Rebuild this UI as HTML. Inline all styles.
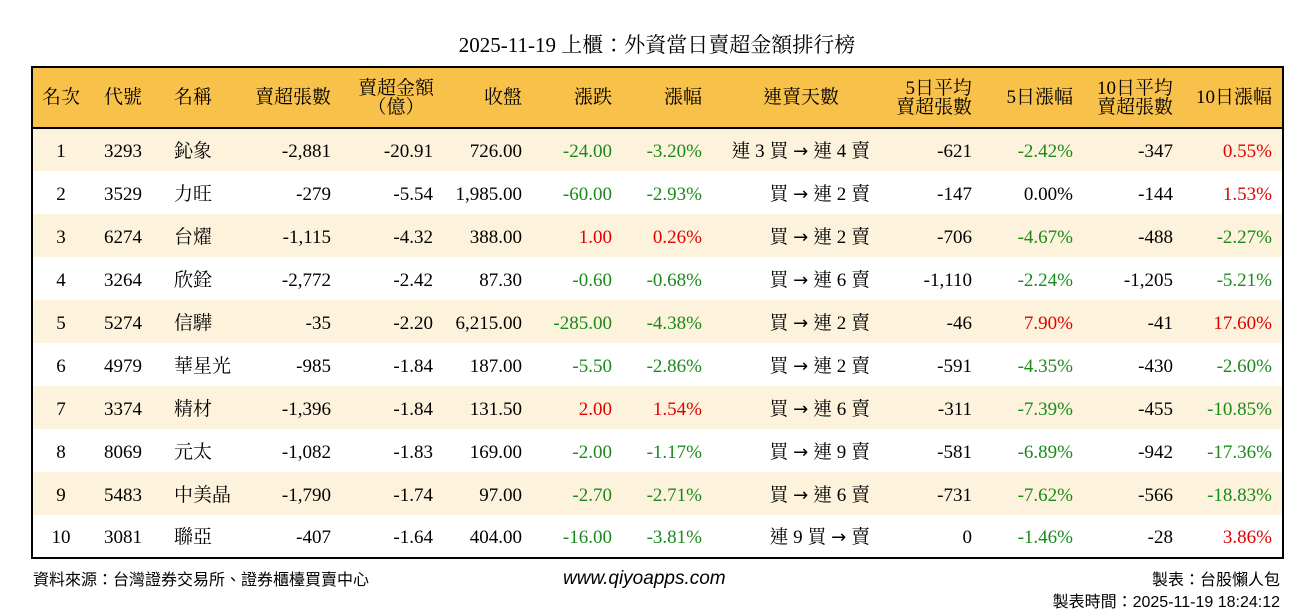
<!DOCTYPE html>
<html><head><meta charset="utf-8"><style>
body{margin:0;width:1314px;height:612px;background:#fff;font-family:"Liberation Serif","Noto Serif CJK TC","Noto Serif CJK SC",serif;position:relative;overflow:hidden}
.title{position:absolute;left:0;width:1314px;top:29px;text-align:center;font-size:21px;color:#000}
table{position:absolute;left:31px;top:66px;border-collapse:collapse;border:2px solid #000;table-layout:fixed;width:1253px;font-size:19px}
td,th{padding:0;white-space:nowrap;text-align:right;padding-right:10px;font-weight:normal;line-height:20px}
tbody td{padding-top:4px}
thead tr{background:#F8C14A;height:61px}
thead th{border-bottom:2px solid #000;line-height:19px}
tbody tr{height:43px}
tbody tr:nth-child(odd){background:#FDF3DC}
.c{text-align:center;padding-right:0}
.l{text-align:left;padding-left:15px;padding-right:0}
.l2{text-align:left;padding-left:13px;padding-right:0}
.g{color:#1a8a1a}.r{color:#e00000}
.a{font-family:"DejaVu Sans",sans-serif;font-size:18px}
.ft{position:absolute;font-family:"Liberation Sans","Noto Sans CJK TC",sans-serif;font-size:16px;color:#000}
</style></head><body>
<div class="title">2025-11-19 上櫃：外資當日賣超金額排行榜</div>
<table>
<colgroup><col style="width:57px"><col style="width:72px"><col style="width:80px"><col style="width:100px"><col style="width:102px"><col style="width:89px"><col style="width:90px"><col style="width:90px"><col style="width:168px"><col style="width:102px"><col style="width:101px"><col style="width:100px"><col style="width:100px"></colgroup>
<thead><tr><th class="c">名次</th><th class="l">代號</th><th class="l2">名稱</th><th>賣超張數</th><th style="text-align:center;padding:0 0 0 8px">賣超金額<br>（億）</th><th>收盤</th><th>漲跌</th><th>漲幅</th><th style="text-align:center;padding-left:20px">連賣天數</th><th>5日平均<br>賣超張數</th><th>5日漲幅</th><th>10日平均<br>賣超張數</th><th>10日漲幅</th></tr></thead>
<tbody>
<tr><td class="c">1</td><td class="l">3293</td><td class="l2">鈊象</td><td>-2,881</td><td>-20.91</td><td>726.00</td><td class="g">-24.00</td><td class="g">-3.20%</td><td>連 3 買 <span class="a">→</span> 連 4 賣</td><td>-621</td><td class="g">-2.42%</td><td>-347</td><td class="r">0.55%</td></tr>
<tr><td class="c">2</td><td class="l">3529</td><td class="l2">力旺</td><td>-279</td><td>-5.54</td><td>1,985.00</td><td class="g">-60.00</td><td class="g">-2.93%</td><td>買 <span class="a">→</span> 連 2 賣</td><td>-147</td><td>0.00%</td><td>-144</td><td class="r">1.53%</td></tr>
<tr><td class="c">3</td><td class="l">6274</td><td class="l2">台燿</td><td>-1,115</td><td>-4.32</td><td>388.00</td><td class="r">1.00</td><td class="r">0.26%</td><td>買 <span class="a">→</span> 連 2 賣</td><td>-706</td><td class="g">-4.67%</td><td>-488</td><td class="g">-2.27%</td></tr>
<tr><td class="c">4</td><td class="l">3264</td><td class="l2">欣銓</td><td>-2,772</td><td>-2.42</td><td>87.30</td><td class="g">-0.60</td><td class="g">-0.68%</td><td>買 <span class="a">→</span> 連 6 賣</td><td>-1,110</td><td class="g">-2.24%</td><td>-1,205</td><td class="g">-5.21%</td></tr>
<tr><td class="c">5</td><td class="l">5274</td><td class="l2">信驊</td><td>-35</td><td>-2.20</td><td>6,215.00</td><td class="g">-285.00</td><td class="g">-4.38%</td><td>買 <span class="a">→</span> 連 2 賣</td><td>-46</td><td class="r">7.90%</td><td>-41</td><td class="r">17.60%</td></tr>
<tr><td class="c">6</td><td class="l">4979</td><td class="l2">華星光</td><td>-985</td><td>-1.84</td><td>187.00</td><td class="g">-5.50</td><td class="g">-2.86%</td><td>買 <span class="a">→</span> 連 2 賣</td><td>-591</td><td class="g">-4.35%</td><td>-430</td><td class="g">-2.60%</td></tr>
<tr><td class="c">7</td><td class="l">3374</td><td class="l2">精材</td><td>-1,396</td><td>-1.84</td><td>131.50</td><td class="r">2.00</td><td class="r">1.54%</td><td>買 <span class="a">→</span> 連 6 賣</td><td>-311</td><td class="g">-7.39%</td><td>-455</td><td class="g">-10.85%</td></tr>
<tr><td class="c">8</td><td class="l">8069</td><td class="l2">元太</td><td>-1,082</td><td>-1.83</td><td>169.00</td><td class="g">-2.00</td><td class="g">-1.17%</td><td>買 <span class="a">→</span> 連 9 賣</td><td>-581</td><td class="g">-6.89%</td><td>-942</td><td class="g">-17.36%</td></tr>
<tr><td class="c">9</td><td class="l">5483</td><td class="l2">中美晶</td><td>-1,790</td><td>-1.74</td><td>97.00</td><td class="g">-2.70</td><td class="g">-2.71%</td><td>買 <span class="a">→</span> 連 6 賣</td><td>-731</td><td class="g">-7.62%</td><td>-566</td><td class="g">-18.83%</td></tr>
<tr><td class="c">10</td><td class="l">3081</td><td class="l2">聯亞</td><td>-407</td><td>-1.64</td><td>404.00</td><td class="g">-16.00</td><td class="g">-3.81%</td><td>連 9 買 <span class="a">→</span> 賣</td><td>0</td><td class="g">-1.46%</td><td>-28</td><td class="r">3.86%</td></tr>
</tbody></table>
<div class="ft" style="left:33px;top:566px">資料來源：台灣證券交易所、證券櫃檯買賣中心</div>
<div class="ft" style="left:563px;top:568px;font-size:19px;font-style:italic">www.qiyoapps.com</div>
<div class="ft" style="right:34px;top:566px">製表：台股懶人包</div>
<div class="ft" style="right:34px;top:588px">製表時間：2025-11-19 18:24:12</div>
</body></html>
